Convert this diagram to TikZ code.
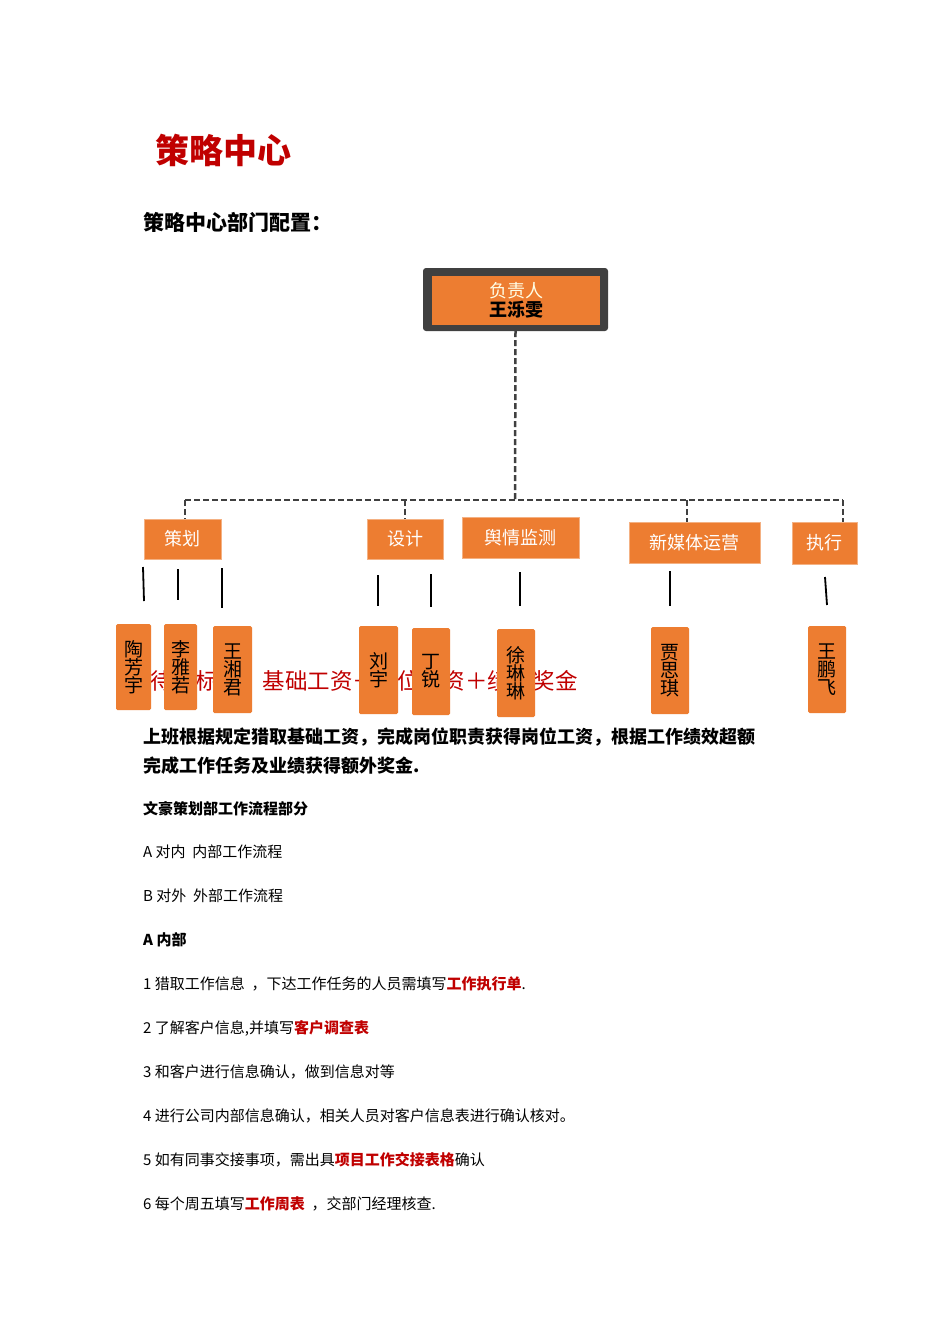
\documentclass[tikz,border=0pt]{standalone}
\usepackage{fontspec}
\setmainfont{Noto Sans CJK SC}
\definecolor{org}{HTML}{ED7D31}
\definecolor{dred}{HTML}{C00000}
\definecolor{dgray}{HTML}{404040}
\begin{document}
\begin{tikzpicture}[x=1pt,y=-1pt,
  dept/.style={fill=org,draw=org!60!white,line width=1pt,text=white,font=\fontsize{18}{20}\selectfont,inner sep=0pt},
  nm/.style={fill=org,rounded corners=1.5pt,font=\fontsize{19}{21}\selectfont,inner sep=0pt,align=center},
  txt/.style={anchor=west,inner sep=0pt,font=\fontsize{15}{17}\selectfont},
  btxt/.style={anchor=west,inner sep=0pt,font=\fontsize{18}{20}\selectfont\bfseries},
  dashline/.style={dgray,line width=2.5pt,dash pattern=on 6pt off 3pt},
  tick/.style={black,line width=1.8pt}]
\useasboundingbox (0,0) rectangle (950,1344);
\fill[white] (0,0) rectangle (950,1344);
\node[anchor=west,inner sep=0pt,text=dred,font=\fontsize{34}{36}\selectfont\bfseries] (title) at (155,150) {策略中心};
\node[anchor=west,inner sep=0pt,font=\fontsize{21}{23}\selectfont\bfseries] (sub) at (143,222) {策略中心部门配置：};
% head
\node[fill=dgray,rounded corners=3pt,minimum width=185,minimum height=63,inner sep=0pt] (headout) at (515.5,299.5) {};
\node[fill=org,minimum width=168,minimum height=49,inner sep=0pt,align=center,font=\fontsize{18}{19}\selectfont] (head) at (516,300.5) {\textcolor{white!90!yellow}{负责人}\\\textbf{王泺雯}};
% red background text
\node[anchor=west,inner sep=0pt,text=dred,font=\fontsize{22.5}{24}\selectfont] (red) at (150,681) {待遇标准：基础工资＋岗位工资＋绩效奖金};
% dashed tree
\coordinate (hub) at (515,500);
\coordinate (L) at (185,500);
\coordinate (R) at (843,500);
\draw[dashline] (headout.south) -- (hub);
\draw[dashline] (L) -- (R);
% depts
\node[dept,minimum width=77,minimum height=40] (d1) at (182.5,539) {策划};
\node[dept,minimum width=76,minimum height=40] (d2) at (405,539) {设计};
\node[dept,minimum width=117,minimum height=41] (d3) at (520.5,537.5) {舆情监测};
\node[dept,minimum width=131,minimum height=41] (d4) at (694.5,542.5) {新媒体运营};
\node[dept,minimum width=65,minimum height=42] (d5) at (824.5,543) {执行};
\draw[dashline] (L) -- (185,519);
\draw[dashline] (405,500) -- (d2.north);
\draw[dashline] (687,500) -- (687,522);
\draw[dashline] (R) -- (843,522);
% ticks
\coordinate (t1a) at (143,567); \coordinate (t1b) at (144,601);
\coordinate (t2a) at (178,569); \coordinate (t2b) at (178,600);
\coordinate (t3a) at (222,568); \coordinate (t3b) at (222,608);
\coordinate (t4a) at (378,575); \coordinate (t4b) at (378,606);
\coordinate (t5a) at (431,574); \coordinate (t5b) at (431,607);
\coordinate (t6a) at (520,572); \coordinate (t6b) at (520,606);
\coordinate (t7a) at (670,571); \coordinate (t7b) at (670,606);
\coordinate (t8a) at (825,577); \coordinate (t8b) at (827,605);
\foreach \i in {1,...,8}{\draw[tick] (t\i a) -- (t\i b);}
% names
\node[nm,minimum width=35,minimum height=86] (n1) at (133.5,667) {陶\\[-3pt]芳\\[-3pt]宇};
\node[nm,minimum width=33,minimum height=86] (n2) at (180.5,667) {李\\[-3pt]雅\\[-3pt]若};
\node[nm,minimum width=39,minimum height=87] (n3) at (232.5,669.5) {王\\[-3pt]湘\\[-3pt]君};
\node[nm,minimum width=39,minimum height=88] (n4) at (378.5,670) {刘\\[-3pt]宇};
\node[nm,minimum width=38,minimum height=87] (n5) at (431,671.5) {丁\\[-3pt]锐};
\node[nm,minimum width=38,minimum height=88] (n6) at (516,673) {徐\\[-3pt]琳\\[-3pt]琳};
\node[nm,minimum width=38,minimum height=87] (n7) at (670,670.5) {贾\\[-3pt]思\\[-3pt]琪};
\node[nm,minimum width=38,minimum height=87] (n8) at (827,669.5) {王\\[-3pt]鹏\\[-3pt]飞};
% paragraph
\node[btxt] (p1) at (143,737) {上班根据规定猎取基础工资，完成岗位职责获得岗位工资，根据工作绩效超额};
\node[btxt] (p2) at (143,766) {完成工作任务及业绩获得额外奖金.};
\node[txt,font=\fontsize{15}{17}\selectfont\bfseries] (l0) at (143,809) {文豪策划部工作流程部分};
\node[txt] (l1) at (143,852) {A 对内\ \ 内部工作流程};
\node[txt] (l2) at (143,896) {B 对外\ \ 外部工作流程};
\node[txt,font=\fontsize{15}{17}\selectfont\bfseries] (l3) at (143,940) {A 内部};
\node[txt] (l4) at (143,984) {1 猎取工作信息\ \ ，下达工作任务的人员需填写\textcolor{dred}{\bfseries 工作执行单}.};
\node[txt] (l5) at (143,1028) {2 了解客户信息,并填写\textcolor{dred}{\bfseries 客户调查表}};
\node[txt] (l6) at (143,1072) {3 和客户进行信息确认，做到信息对等};
\node[txt] (l7) at (143,1116) {4 进行公司内部信息确认，相关人员对客户信息表进行确认核对。};
\node[txt] (l8) at (143,1160) {5 如有同事交接事项，需出具\textcolor{dred}{\bfseries 项目工作交接表格}确认};
\node[txt] (l9) at (143,1204) {6 每个周五填写\textcolor{dred}{\bfseries 工作周表}\ \ ，交部门经理核查.};
\end{tikzpicture}
\end{document}
